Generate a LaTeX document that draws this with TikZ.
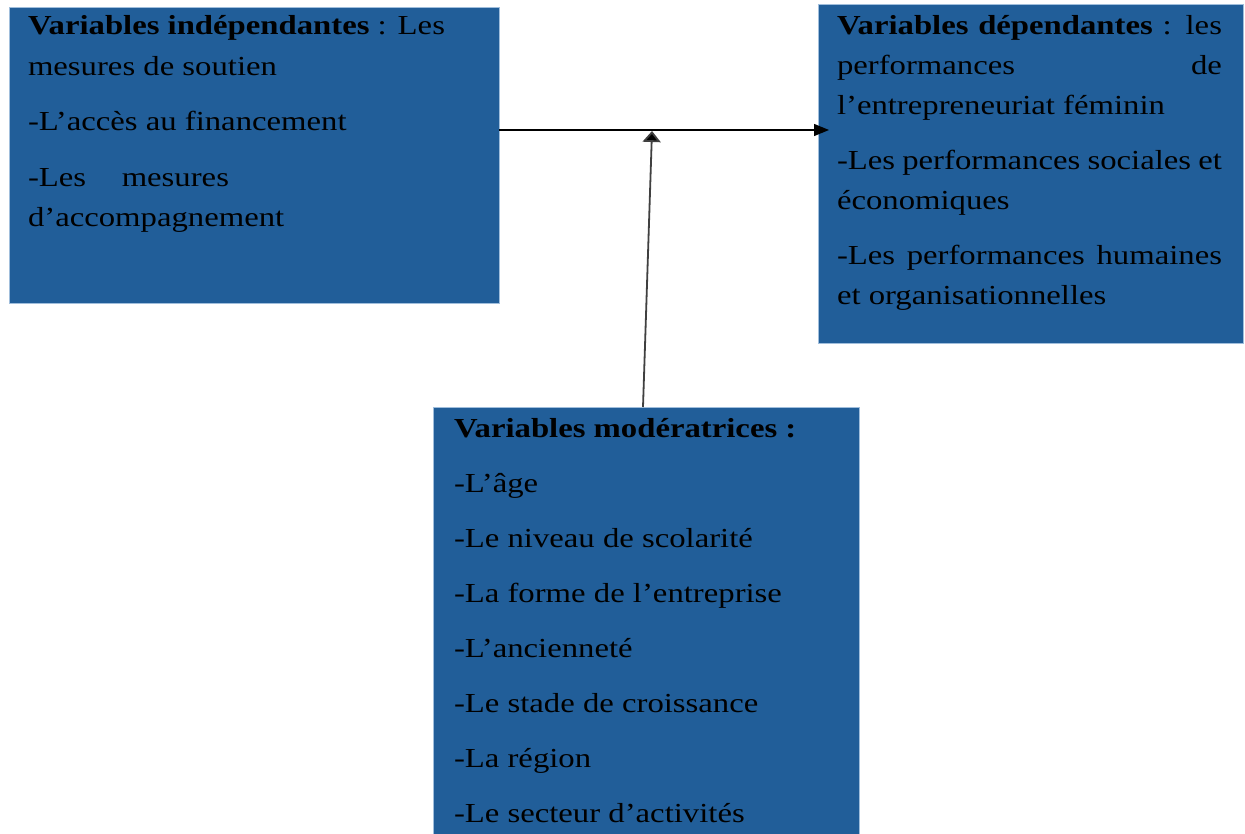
\documentclass[tikz,border=0pt]{standalone}
\usepackage{fontspec}
\setmainfont{Liberation Serif}[FakeStretch=1.19]
\usetikzlibrary{arrows.meta}
\definecolor{boxblue}{RGB}{33,94,153}
\definecolor{boxedge}{RGB}{160,190,220}
\tikzset{
  vbox/.style={draw=boxedge, line width=0.6pt, fill=boxblue, inner sep=0pt, outer sep=0pt, anchor=north west},
  ln/.style={anchor=base west, inner sep=0pt, outer sep=0pt, text=black, font=\fontsize{27.5}{32}\selectfont},
  harrow/.style={draw=black, line width=1.3pt, -{Triangle[length=15pt,width=12pt]}},
  varrow/.style={draw=black!75, line width=1.8pt, -{Triangle[length=11pt,width=18pt,fill=black]}}
}
\begin{document}
\begin{tikzpicture}[x=1pt,y=-1pt]
\useasboundingbox[fill=white] (0,0) rectangle (1245,834);
% boxes
\node[vbox, minimum width=490pt, minimum height=296pt] (ind) at (9,7) {};
\node[vbox, minimum width=425pt, minimum height=339pt] (dep) at (818,4) {};
\node[vbox, minimum width=426pt, minimum height=430pt] (mod) at (433,407) {};
% left text
\node[ln] (i1) at (28,35) {\textbf{Variables indépendantes} : Les};
\node[ln] (i2) at (28,76) {mesures de soutien};
\node[ln] (i3) at (28,131) {-L’accès au financement};
\node[ln] (i4) at (28,187) {\makebox[201pt][s]{-Les mesures}};
\node[ln] (i5) at (28,227) {d’accompagnement};
% right text
\node[ln] (d1) at (837,35) {\makebox[385pt][s]{\textbf{Variables dépendantes} : les}};
\node[ln] (d2) at (837,75) {\makebox[385pt][s]{performances de}};
\node[ln] (d3) at (837,115) {l’entrepreneuriat féminin};
\node[ln] (d4) at (837,170) {\makebox[385pt][s]{-Les performances sociales et}};
\node[ln] (d5) at (837,210) {économiques};
\node[ln] (d6) at (837,265) {\makebox[385pt][s]{-Les performances humaines}};
\node[ln] (d7) at (837,305) {et organisationnelles};
% bottom text
\node[ln] (m1) at (454,437) {\textbf{Variables modératrices :}};
\node[ln] (m2) at (454,492) {-L’âge};
\node[ln] (m3) at (454,547) {-Le niveau de scolarité};
\node[ln] (m4) at (454,602) {-La forme de l’entreprise};
\node[ln] (m5) at (454,657) {-L’ancienneté};
\node[ln] (m6) at (454,712) {-Le stade de croissance};
\node[ln] (m7) at (454,767) {-La région};
\node[ln] (m8) at (454,822) {-Le secteur d’activités};
% connectors
\coordinate (hs) at (499,130);
\coordinate (he) at (829,130);
\coordinate (vs) at (643,407);
\coordinate (ve) at (652,131);
\draw[harrow] (hs) -- (he);
\draw[varrow] (vs) -- (ve);
\end{tikzpicture}
\end{document}
